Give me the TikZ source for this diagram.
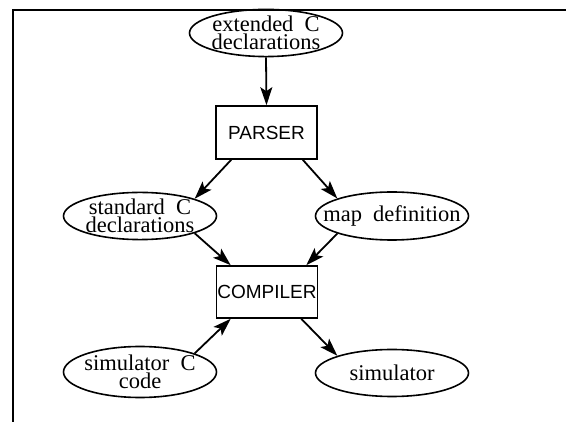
\documentclass[tikz,border=0pt]{standalone}
\usepackage{fontspec}
\setmainfont{Liberation Serif}
\newfontfamily\boxfont{Liberation Sans}
\usetikzlibrary{shapes.geometric,arrows.meta,calc}
% a line of text that takes no width, so the ellipse keeps its set size
\newcommand{\zline}[1]{\makebox[0pt]{#1}}
\begin{document}
\begin{tikzpicture}[x=1pt,y=-1pt,
  oval/.style={ellipse,draw,line width=1.6pt,minimum width=153pt,inner sep=0pt,
    align=center,font=\fontsize{22.5}{17.5}\selectfont},
  stage/.style={rectangle,draw,line width=1.6pt,minimum width=101pt,inner sep=0pt,
    font=\boxfont\fontsize{19}{20}\selectfont},
  arr/.style={line width=1.8pt,-{Stealth[length=18pt,width=12pt,inset=4pt]}}]
\useasboundingbox (0,0) rectangle (566,422);
% open frame: top and left rules only
\draw[line width=2pt] (566,10) -- (13,10) -- (13,422);

\node[oval,minimum height=38pt] (ext) at (266,33) {\zline{extended\ \ C}\\\zline{declarations}};
\node[stage,minimum height=53pt] (parser) at (266.5,132.5) {PARSER};
\node[oval,minimum height=47pt] (std) at (140,216) {\zline{standard\ \ C}\\\zline{declarations}};
\node[oval,minimum height=48pt] (map) at (392,216) {\zline{map\ \ definition}};
\node[stage,minimum height=52pt] (comp) at (267,292) {COMPILER};
\node[oval,minimum height=51pt] (simc) at (140,372) {\zline{simulator\ \ C}\\\zline{code}};
\node[oval,minimum height=47pt] (sim) at (392,373) {\zline{simulator}};

\draw[arr] (ext.south) -- (parser.north);
\draw[arr] ($(parser.south west)+(16,0)$) -- (std.north east);
\draw[arr] ($(parser.south east)+(-15,0)$) -- (map.north west);
\draw[arr] (std.south east) -- ($(comp.north west)+(15,0)$);
\draw[arr] (map.south west) -- ($(comp.north east)+(-12,0)$);
\draw[arr] (simc.north east) -- ($(comp.south west)+(15,0)$);
\draw[arr] ($(comp.south east)+(-17,0)$) -- (sim.north west);
\end{tikzpicture}
\end{document}
